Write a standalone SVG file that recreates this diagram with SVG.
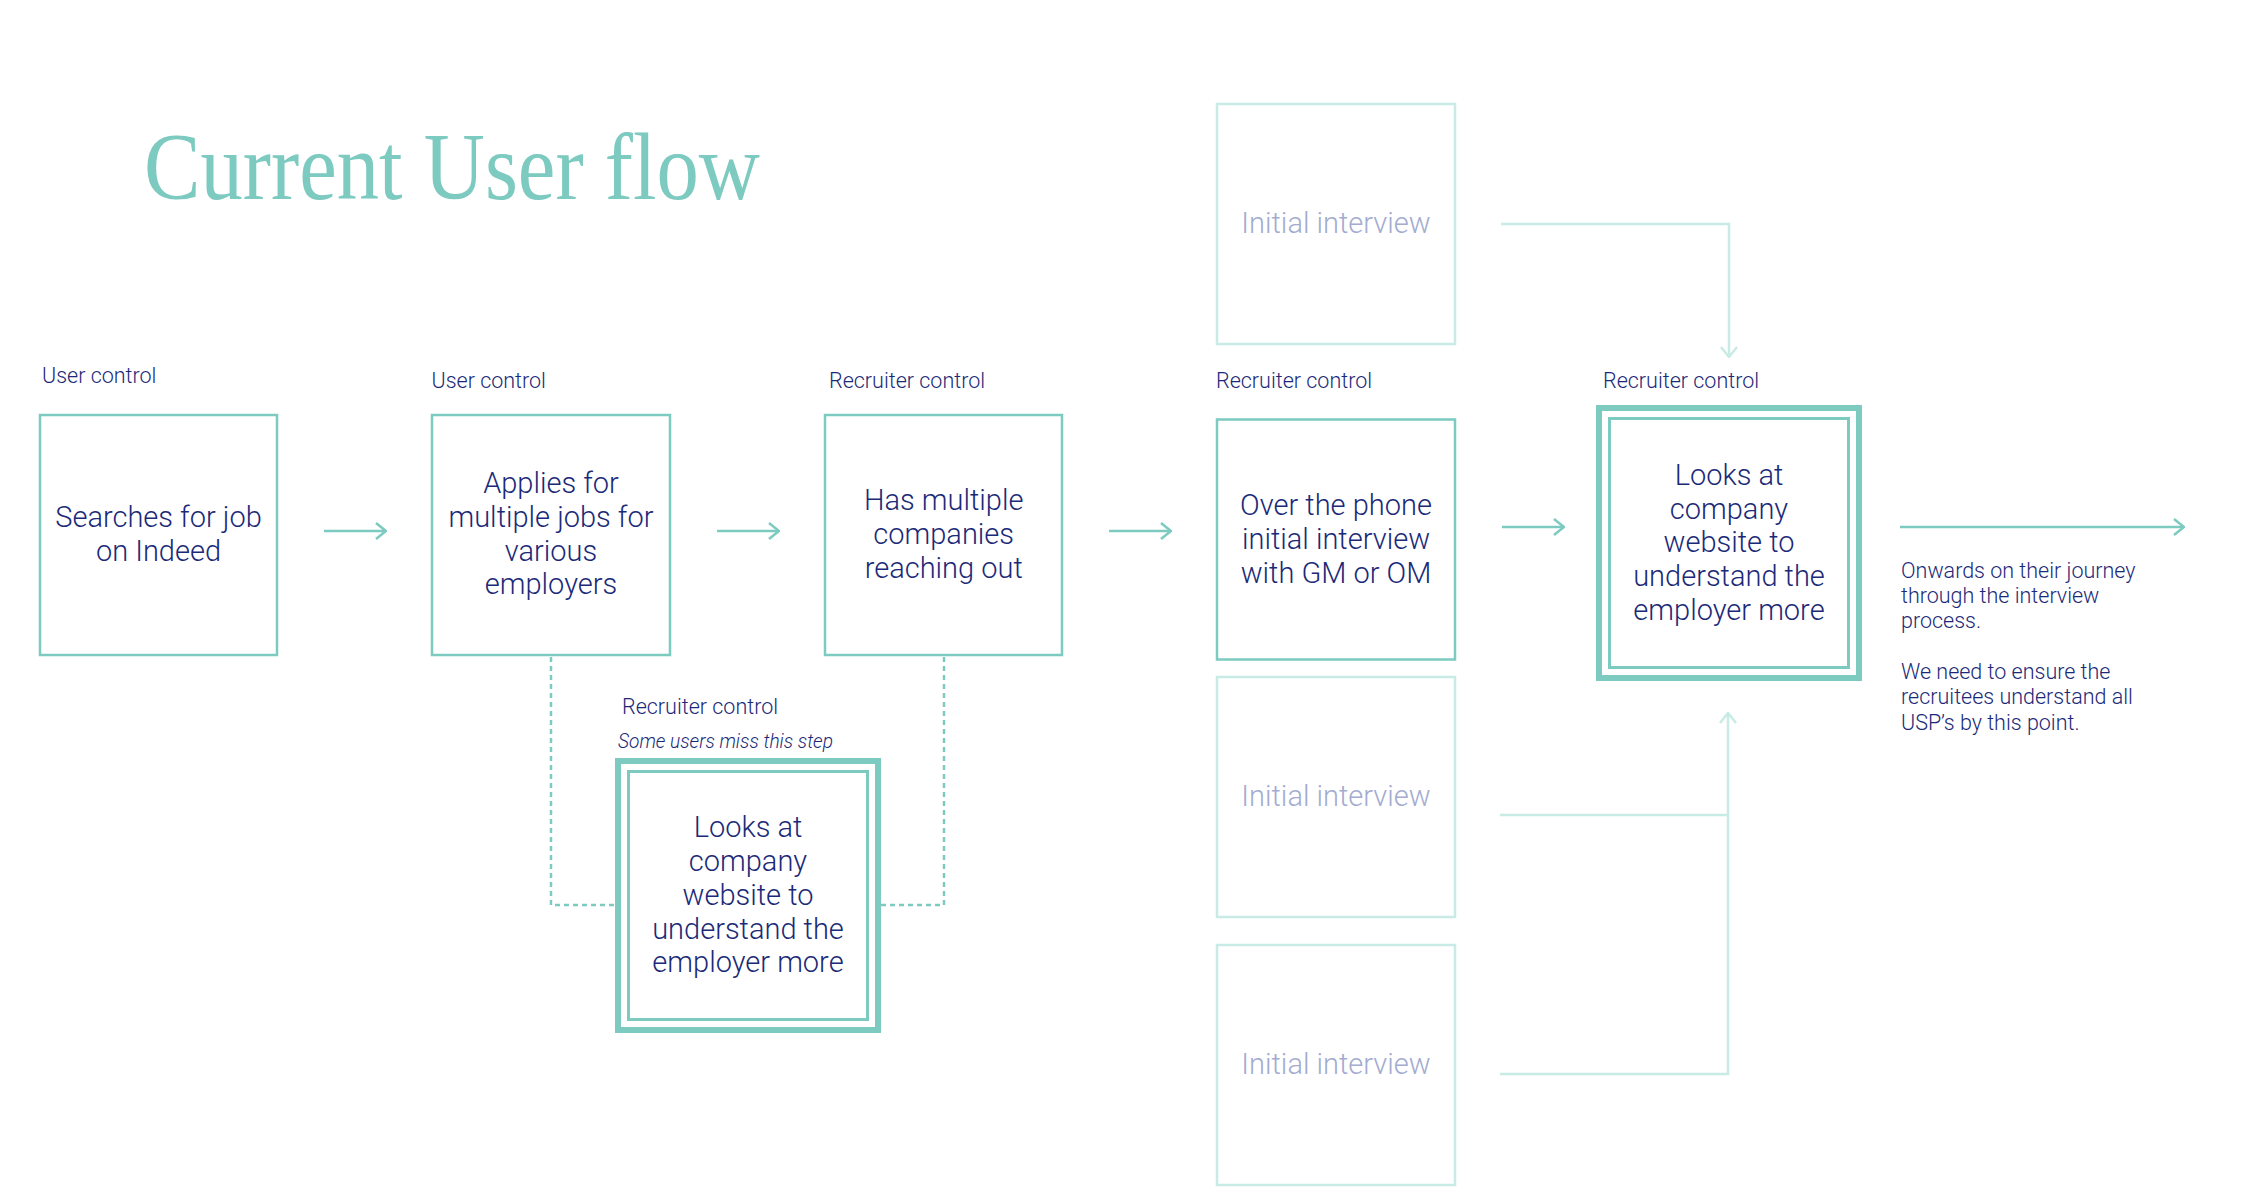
<svg xmlns="http://www.w3.org/2000/svg" width="2262" height="1202" viewBox="0 0 2262 1202">
<style>
.box{fill:#fff;stroke:#7ccac0;stroke-width:2.5}
.fbox{fill:#fff;stroke:#c9ebe6;stroke-width:2.5}
.outer{fill:#fff;stroke:#7ccac0;stroke-width:6}
.inner{fill:none;stroke:#7ccac0;stroke-width:3}
.t{font-family:Roboto,"Liberation Sans",sans-serif;font-weight:300;font-size:29px;fill:#1b2a78;text-anchor:middle}
.ft{font-family:Roboto,"Liberation Sans",sans-serif;font-weight:300;font-size:29px;fill:#a3acd0;text-anchor:middle}
.lbl{font-family:Roboto,"Liberation Sans",sans-serif;font-weight:300;font-size:21.5px;fill:#1b2a78}
.it{font-style:italic;font-size:21px}
.con{fill:none;stroke:#7ccac0;stroke-width:2.5}
.fcon{fill:none;stroke:#c9ebe6;stroke-width:2.5}
.dash{fill:none;stroke:#7ccac0;stroke-width:2.5;stroke-dasharray:5 4}
.title{font-family:"Liberation Serif","Times New Roman",serif;font-size:96px;fill:#7ccac0}
</style>
<defs>
<marker id="ah" viewBox="0 0 12 18" refX="11" refY="9" markerWidth="12" markerHeight="18" markerUnits="userSpaceOnUse" orient="auto">
<path d="M1 1 L11 9 L1 17" fill="none" stroke="#7ccac0" stroke-width="2.5"/>
</marker>
<marker id="fah" viewBox="0 0 12 18" refX="11" refY="9" markerWidth="12" markerHeight="18" markerUnits="userSpaceOnUse" orient="auto">
<path d="M1 1 L11 9 L1 17" fill="none" stroke="#c9ebe6" stroke-width="2.5"/>
</marker>
</defs>
<rect width="2262" height="1202" fill="#fff"/>
<text class="title" x="144" y="199" textLength="616" lengthAdjust="spacingAndGlyphs">Current User flow</text>

<g id="connectors">
<line class="con" x1="324" y1="531" x2="386" y2="531" marker-end="url(#ah)"/>
<line class="con" x1="717" y1="531" x2="779" y2="531" marker-end="url(#ah)"/>
<line class="con" x1="1109" y1="531" x2="1171" y2="531" marker-end="url(#ah)"/>
<line class="con" x1="1502" y1="527" x2="1564" y2="527" marker-end="url(#ah)"/>
<line class="con" x1="1900" y1="527" x2="2184" y2="527" marker-end="url(#ah)"/>
<path class="dash" d="M551 657 V905 H615"/>
<path class="dash" d="M944 657 V905 H881"/>
<path class="fcon" d="M1501 224 H1729 V357" marker-end="url(#fah)"/>
<path class="fcon" d="M1500 815 H1728"/>
<path class="fcon" d="M1500 1074 H1728 V713" marker-end="url(#fah)"/>
</g>

<g id="node-search">
<text class="lbl" x="42" y="383">User control</text>
<rect class="box" x="40" y="415" width="237" height="240"/>
<text class="t" x="158.5" y="527">Searches for job</text>
<text class="t" x="158.5" y="561">on Indeed</text>
</g>

<g id="node-applies">
<text class="lbl" x="431.5" y="388">User control</text>
<rect class="box" x="432" y="415" width="238" height="240"/>
<text class="t" x="551" y="493">Applies for</text>
<text class="t" x="551" y="527">multiple jobs for</text>
<text class="t" x="551" y="561">various</text>
<text class="t" x="551" y="594">employers</text>
</g>

<g id="node-companies">
<text class="lbl" x="829" y="388">Recruiter control</text>
<rect class="box" x="825" y="415" width="237" height="240"/>
<text class="t" x="943.7" y="510">Has multiple</text>
<text class="t" x="943.7" y="544">companies</text>
<text class="t" x="943.7" y="578">reaching out</text>
</g>

<g id="node-website-small">
<text class="lbl" x="622" y="714">Recruiter control</text>
<text class="lbl it" x="618" y="748" textLength="215" lengthAdjust="spacingAndGlyphs">Some users miss this step</text>
<rect class="outer" x="618" y="761" width="260" height="269"/>
<rect class="inner" x="628.5" y="771.5" width="239" height="248"/>
<text class="t" x="748" y="837">Looks at</text>
<text class="t" x="748" y="871">company</text>
<text class="t" x="748" y="905">website to</text>
<text class="t" x="748" y="938.5">understand the</text>
<text class="t" x="748" y="972">employer more</text>
</g>

<g id="node-phone">
<text class="lbl" x="1216" y="388">Recruiter control</text>
<rect class="box" x="1217" y="419.5" width="238" height="240"/>
<text class="t" x="1336" y="515">Over the phone</text>
<text class="t" x="1336" y="549">initial interview</text>
<text class="t" x="1336" y="582.5">with GM or OM</text>
</g>

<g id="node-interview-top">
<rect class="fbox" x="1217" y="104" width="238" height="240"/>
<text class="ft" x="1336" y="233">Initial interview</text>
</g>

<g id="node-interview-mid">
<rect class="fbox" x="1217" y="677" width="238" height="240"/>
<text class="ft" x="1336" y="806">Initial interview</text>
</g>

<g id="node-interview-bottom">
<rect class="fbox" x="1217" y="945" width="238" height="240"/>
<text class="ft" x="1336" y="1074">Initial interview</text>
</g>

<g id="node-website">
<text class="lbl" x="1603" y="388">Recruiter control</text>
<rect class="outer" x="1599" y="408" width="260" height="270"/>
<rect class="inner" x="1609.5" y="418.5" width="239" height="249"/>
<text class="t" x="1729" y="485">Looks at</text>
<text class="t" x="1729" y="518.5">company</text>
<text class="t" x="1729" y="552">website to</text>
<text class="t" x="1729" y="586">understand the</text>
<text class="t" x="1729" y="619.5">employer more</text>
</g>

<g id="note">
<text class="lbl" x="1901" y="578">Onwards on their journey</text>
<text class="lbl" x="1901" y="603">through the interview</text>
<text class="lbl" x="1901" y="628">process.</text>
<text class="lbl" x="1901" y="679">We need to ensure the</text>
<text class="lbl" x="1901" y="704">recruitees understand all</text>
<text class="lbl" x="1901" y="730">USP’s by this point.</text>
</g>
</svg>
